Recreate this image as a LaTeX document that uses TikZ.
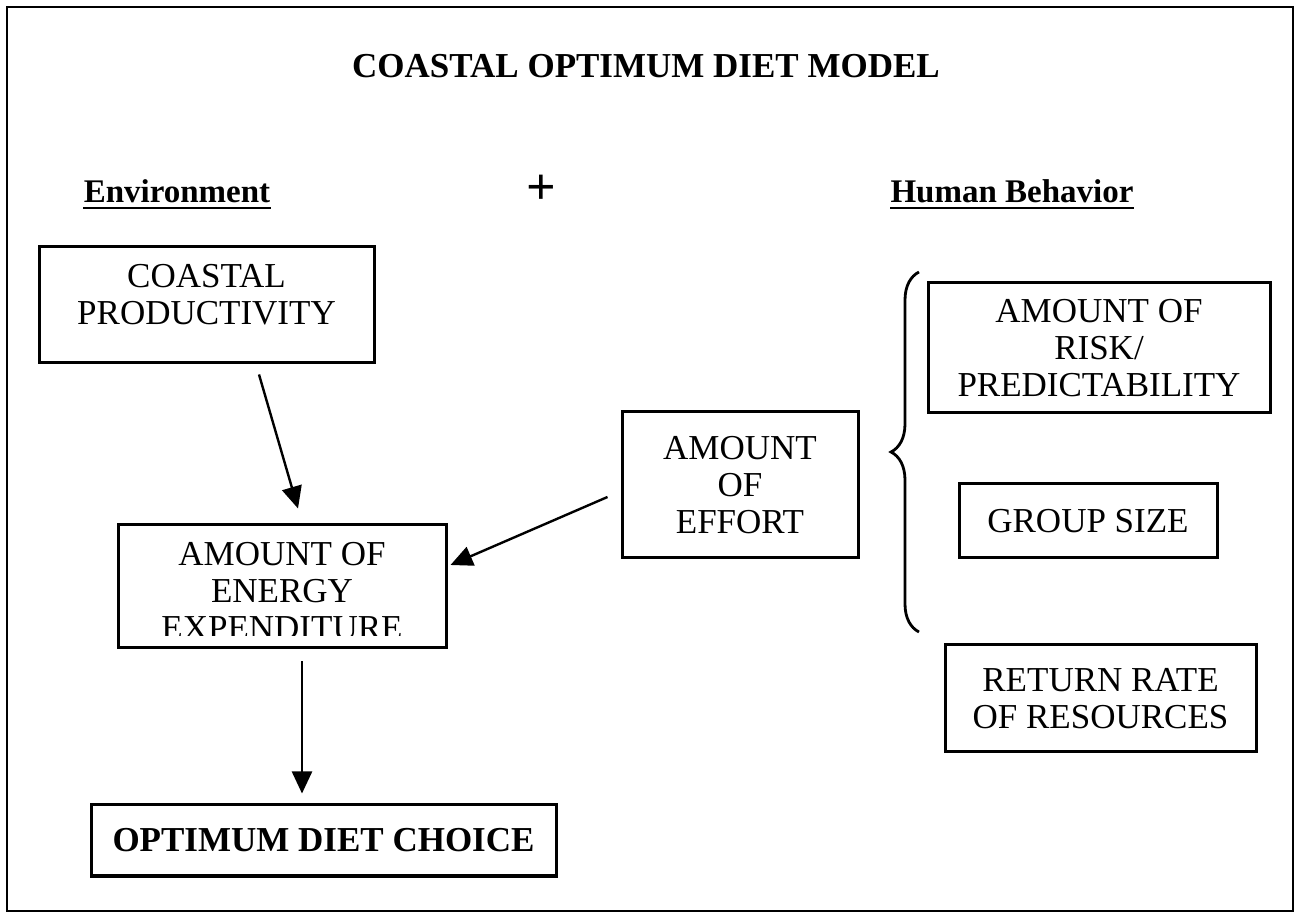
\documentclass[tikz,border=0pt]{standalone}
\usepackage{fontspec}
\setmainfont{Liberation Serif}
\usetikzlibrary{arrows.meta,calc,decorations.pathreplacing}

\begin{document}
\begin{tikzpicture}[x=0.5pt,y=-0.5pt]
\useasboundingbox (0,0) rectangle (1296,913);
\draw[line width=1.2pt] (7,7) rectangle (1293,911);

\begin{scope}[every node/.style={inner sep=0pt,font=\fontsize{16.5}{18}\selectfont\bfseries}]
    \node[anchor=base,font=\fontsize{17.5}{20}\selectfont\bfseries] (T) at (646,78) {COASTAL OPTIMUM DIET MODEL};
    \node[anchor=base] (Env) at (177,203) {Environment};
    \node[font=\fontsize{26}{26}\selectfont\bfseries] (Plus) at (541,190) {+};
    \node[anchor=base] (Hum) at (1012,203) {Human Behavior};
\end{scope}
\draw[line width=1.2pt] ([yshift=-2.5pt]Env.base west) -- ([yshift=-2.5pt]Env.base east);
\draw[line width=1.2pt] ([yshift=-2.5pt]Hum.base west) -- ([yshift=-2.5pt]Hum.base east);

\begin{scope}[every node/.style={rectangle,draw,line width=1.5pt,inner sep=0pt,align=center,font=\fontsize{17.5}{18.5}\selectfont}]
    \node[minimum width=167.5pt,minimum height=58pt] (CP) at (206.5,305) {};
    \node[draw=none] (CPtext) at (206.5,295) {COASTAL\\PRODUCTIVITY};
    \node[minimum width=164pt,minimum height=61.5pt] (AE) at (282,586.5) {};
    \node[minimum width=232.5pt,minimum height=35.5pt,font=\fontsize{17.5}{18.5}\selectfont\bfseries] (ODC) at (323.5,840.5) {OPTIMUM DIET CHOICE};
    \node[minimum width=118pt,minimum height=73pt] (EF) at (740,485) {AMOUNT\\OF\\EFFORT};
    \node[minimum width=171pt,minimum height=65pt] (RP) at (1099,348) {AMOUNT OF\\RISK/\\PREDICTABILITY};
    \node[minimum width=129pt,minimum height=37pt] (GS) at (1088,521) {GROUP SIZE};
    \node[minimum width=155.5pt,minimum height=53.5pt] (RR) at (1100.5,698.5) {RETURN RATE\\OF RESOURCES};
    \begin{scope}
        \clip (118,525) rectangle (446,636);
        \node[draw=none] (AEtext) at (282,591.5) {AMOUNT OF\\ENERGY\\EXPENDITURE};
    \end{scope}
\end{scope}

\begin{scope}[>={Triangle[length=11pt,width=10pt]},
              every edge/.style={draw,line width=1.2pt}]
    \path [->] ($(CP.south)+(52.5,10)$) edge ($(AE.north)+(16,-15)$);
    \path [->] ($(EF.west)+(-13,12)$) edge ($(AE.east)+(3,-21.5)$);
    \path [->] ($(AE.south)+(20,12)$) edge ($(ODC.north)+(-21.5,-10)$);
\end{scope}

\draw[line width=1.4pt,decorate,decoration={brace,amplitude=14pt}] (919,632) -- (919,272);
\end{tikzpicture}
\end{document}
